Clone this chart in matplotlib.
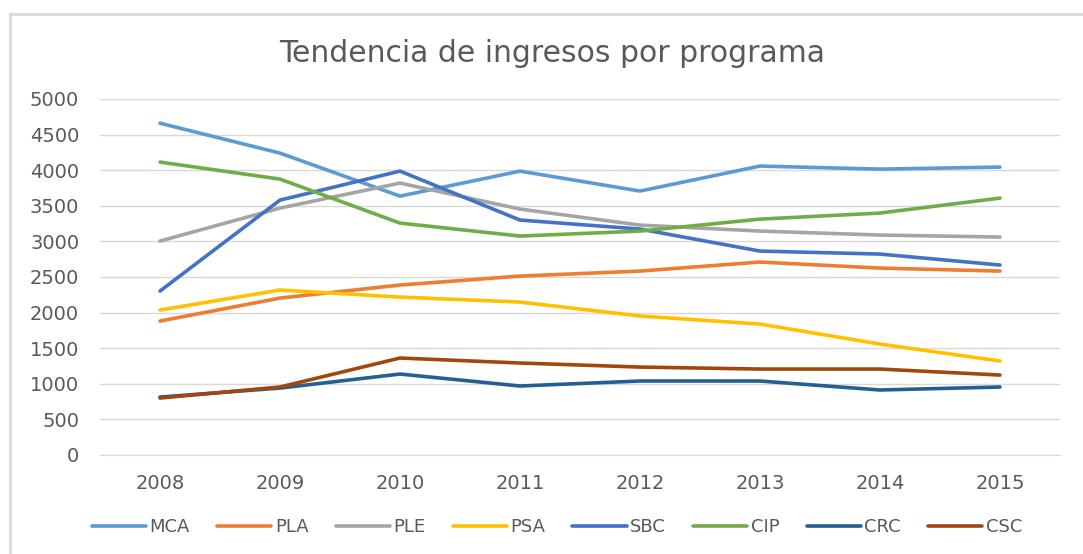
import numpy as np
import matplotlib
matplotlib.use('Agg')
import matplotlib.pyplot as plt
from matplotlib.patches import Rectangle

years = ['2008', '2009', '2010', '2011', '2012', '2013', '2014', '2015']

mca = [4660, 4240, 3636, 3987, 3707, 4058, 4015, 4044]
pla = [1881, 2204, 2387, 2513, 2583, 2710, 2625, 2583]
ple = [3005, 3468, 3819, 3454, 3229, 3145, 3089, 3061]
psa = [2036, 2317, 2218, 2148, 1952, 1839, 1558, 1320]
sbc = [2303, 3580, 3987, 3300, 3173, 2864, 2822, 2668]
cip = [4114, 3875, 3257, 3075, 3145, 3313, 3398, 3608]
crc = [814, 940, 1137, 969, 1039, 1039, 913, 955]
csc = [800, 955, 1362, 1292, 1235, 1207, 1207, 1123]

series = [('MCA', mca, '#5B9BD5'), ('PLA', pla, '#ED7D31'),
          ('PLE', ple, '#A5A5A5'), ('PSA', psa, '#FFC000'),
          ('SBC', sbc, '#4472C4'), ('CIP', cip, '#70AD47'),
          ('CRC', crc, '#255E91'), ('CSC', csc, '#9E480E')]

W, H = 1083, 554
fig = plt.figure(figsize=(W / 100, H / 100), dpi=100)
fig.patch.set_facecolor('white')

# chart frame (cut off at right/bottom in the reference)
fig.patches.append(Rectangle((10 / W, -0.1), 1.2, 1.1 - 14 / H,
                             transform=fig.transFigure, fill=False,
                             edgecolor='#d9d9d9', linewidth=2))

ax = fig.add_axes([100 / W, (H - 455) / H, 960 / W, 356 / H])
x = np.arange(len(years))
for name, vals, color in series:
    ax.plot(x, vals, color=color, linewidth=2.6, label=name,
            solid_capstyle='round')

ax.set_xlim(-0.5, len(years) - 0.5)
ax.set_ylim(0, 5000)
ax.set_yticks(np.arange(0, 5001, 500))
ax.set_xticks(x)
ax.set_xticklabels(years)
ax.grid(axis='y', color='#d9d9d9', linewidth=1)
ax.set_axisbelow(True)
for s in ['top', 'right', 'left']:
    ax.spines[s].set_visible(False)
ax.spines['bottom'].set_color('#d9d9d9')
ax.tick_params(axis='both', length=0, labelsize=14, colors='#595959')
ax.tick_params(axis='y', pad=15)
ax.tick_params(axis='x', pad=14)

fig.text(552 / W, 1 - 53 / H, 'Tendencia de ingresos por programa',
         ha='center', va='center', fontsize=21.5, color='#595959')

ax.legend(loc='center', bbox_to_anchor=(557 / W, 1 - 527 / H),
          bbox_transform=fig.transFigure, ncol=8, frameon=False,
          fontsize=13, handlelength=3.0, handletextpad=0.2,
          columnspacing=1.5, labelcolor='#595959')

fig.savefig('out.png', dpi=100)
